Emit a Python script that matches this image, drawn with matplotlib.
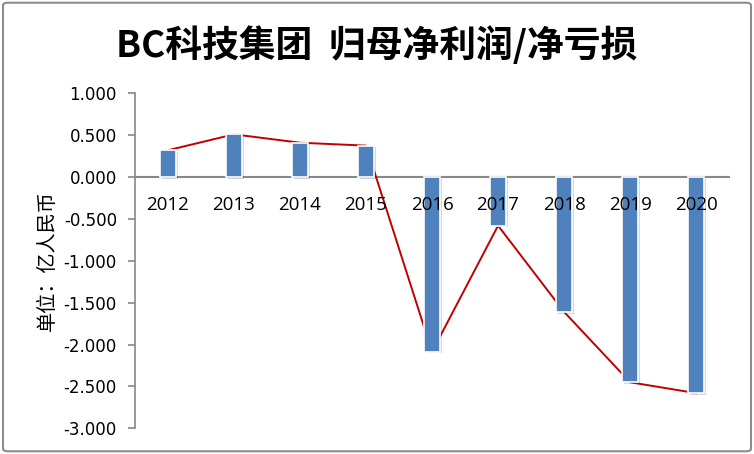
import numpy as np
import matplotlib.pyplot as plt
from matplotlib.patches import FancyBboxPatch
import matplotlib.patheffects as pe

plt.rcParams['font.family'] = ['Noto Sans CJK SC', 'DejaVu Sans']

years = ['2012', '2013', '2014', '2015', '2016', '2017', '2018', '2019', '2020']
profit = [0.32, 0.51, 0.41, 0.375, -2.086, -0.58, -1.61, -2.45, -2.58]
yticks = [1.0, 0.5, 0.0, -0.5, -1.0, -1.5, -2.0, -2.5, -3.0]

fig = plt.figure(figsize=(7.54, 4.54), dpi=100)
ax = fig.add_axes([0.179, 0.0566, 0.788, 0.7379])

x = np.arange(len(years))
ax.plot(x, profit, color='#C00000', lw=1.4, zorder=2)
ax.bar(x, profit, width=0.24, color='#4F81BD', edgecolor='white', lw=1.2, zorder=3,
       path_effects=[pe.SimplePatchShadow(offset=(1.2, -1.2), alpha=0.18), pe.Normal()])

ax.set_xlim(-0.5, 8.5)
ax.set_ylim(-3.0, 1.0)
ax.set_yticks(yticks)
ax.set_yticklabels(['%.3f' % v for v in yticks], fontsize=12, family='DejaVu Sans')
ax.set_xticks([])
ax.tick_params(axis='y', length=5, color='#888888', width=1.2, pad=8)

# year labels sit just under the zero line, drawn over the bars
for xi, yr in zip(x, years):
    ax.text(xi, -0.33, yr, ha='center', va='center', fontsize=13.5,
            family='Open Sans', zorder=5)

for s in ['top', 'right']:
    ax.spines[s].set_visible(False)
ax.spines['bottom'].set_position(('data', 0))
ax.spines['bottom'].set_color('#888888')
ax.spines['bottom'].set_linewidth(1.5)
ax.spines['bottom'].set_zorder(1)
ax.spines['left'].set_color('#888888')
ax.spines['left'].set_linewidth(1.2)

ax.set_ylabel('单位：亿人民币', fontsize=14.5)
ax.yaxis.set_label_coords(-0.13, 0.50)

fig.text(0.5, 0.9, 'BC科技集团  归母净利润/净亏损', ha='center', va='center',
         fontsize=26.5, fontweight='bold')

border = FancyBboxPatch((0.004, 0.006), 0.992, 0.988, boxstyle='round,pad=0,rounding_size=0.006',
                        transform=fig.transFigure, fill=False, ec='#8c8c8c', lw=1.5)
fig.patches.append(border)

plt.savefig('out.png', dpi=100)
